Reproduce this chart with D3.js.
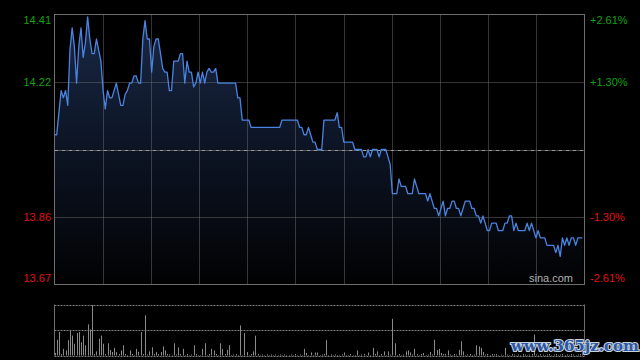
<!DOCTYPE html>
<html><head><meta charset="utf-8">
<script src="https://cdn.jsdelivr.net/npm/d3@7"></script>
<style>html,body{margin:0;padding:0;background:#000;}svg{display:block;}</style>
</head><body>
<svg id="c" width="640" height="360"></svg>
<script>
const prevClose = 14.04;
const pctRange = 2.61;
const totalMinutes = 240;
const priceTickLabels = ["14.41", "14.22", "13.86", "13.67"];
const pctTickLabels = ["+2.61%", "+1.30%", "-1.30%", "-2.61%"];
const tickPcts = [2.61, 1.305, -1.305, -2.61];
const prices = [
14.08,14.08,14.14,14.20,14.18,14.20,14.16,14.31,14.37,14.32,
14.22,14.32,14.37,14.29,14.33,14.40,14.34,14.30,14.30,14.34,
14.31,14.28,14.20,14.15,14.20,14.18,14.18,14.20,14.22,14.19,
14.16,14.16,14.19,14.20,14.22,14.22,14.24,14.24,14.22,14.22,
14.34,14.39,14.34,14.34,14.25,14.32,14.34,14.34,14.30,14.26,
14.25,14.25,14.20,14.20,14.28,14.28,14.28,14.30,14.30,14.22,
14.28,14.25,14.25,14.21,14.22,14.25,14.22,14.25,14.22,14.25,
14.26,14.25,14.25,14.26,14.22,14.22,14.22,14.22,14.22,14.22,
14.22,14.22,14.22,14.18,14.18,14.12,14.12,14.12,14.12,14.10,
14.10,14.10,14.10,14.10,14.10,14.10,14.10,14.10,14.10,14.10,
14.10,14.10,14.10,14.12,14.12,14.12,14.12,14.12,14.12,14.12,
14.12,14.10,14.10,14.08,14.08,14.10,14.08,14.06,14.06,14.04,
14.04,14.04,14.12,14.12,14.12,14.12,14.12,14.12,14.14,14.10,
14.10,14.06,14.06,14.06,14.06,14.06,14.04,14.04,14.04,14.04,
14.02,14.02,14.04,14.02,14.04,14.04,14.04,14.02,14.04,14.04,
14.04,14.02,14.00,13.92,13.92,13.92,13.96,13.94,13.94,13.94,
13.92,13.92,13.92,13.96,13.94,13.92,13.92,13.92,13.92,13.90,
13.92,13.90,13.88,13.88,13.86,13.88,13.90,13.86,13.88,13.88,
13.90,13.90,13.88,13.88,13.86,13.88,13.90,13.90,13.90,13.88,
13.88,13.86,13.86,13.84,13.86,13.84,13.82,13.82,13.84,13.84,
13.84,13.82,13.82,13.82,13.84,13.84,13.86,13.86,13.82,13.84,
13.82,13.82,13.82,13.82,13.84,13.82,13.84,13.82,13.80,13.82,
13.80,13.80,13.80,13.78,13.78,13.78,13.78,13.76,13.78,13.75,
13.80,13.78,13.80,13.78,13.80,13.80,13.78,13.80,13.80,13.80
];
const volumes = [
5,31,46,3,13,10,30,48,39,23,
44,46,26,39,20,61,51,99,3,8,
33,39,23,3,24,11,7,15,7,3,
10,20,3,1,10,3,1,13,7,46,
3,79,2,8,16,3,7,3,7,18,
10,3,2,1,24,2,16,3,13,1,
3,1,2,20,3,1,1,13,24,1,
3,13,10,3,1,24,13,3,11,20,
1,2,3,1,59,1,44,7,1,3,
8,39,3,1,2,1,2,1,2,1,
2,1,2,1,2,1,1,2,1,3,
1,2,1,13,5,1,6,1,6,6,
1,2,3,30,1,2,1,2,1,1,
2,6,1,1,3,1,1,10,1,2,
3,1,6,1,15,3,8,1,3,8,
1,8,2,72,24,1,3,1,2,8,
10,6,2,13,3,1,3,5,1,2,
7,2,31,11,13,5,3,3,10,2,
1,3,2,11,28,8,1,2,3,1,
2,20,18,15,7,2,3,1,3,2,
3,1,2,1,15,2,1,3,2,1,
2,1,3,2,1,2,3,41,2,1,
3,2,1,2,3,1,2,3,1,2,
3,1,2,1,3,2,1,2,3,2
];
const volumeMax = 100;
const vGridCount = 11;

const svg = d3.select("#c");
const L = 54.5, R = 584.5, T = 14.5, B = 284.5;
const VT = 304.5, VB = 355.5;
const green = "#14a014", red = "#e01010";

svg.append("rect").attr("width", 640).attr("height", 360).attr("fill", "#000");

const x = d3.scaleLinear().domain([0, totalMinutes]).range([L, R]);
const y = d3.scaleLinear()
  .domain([prevClose * (1 - pctRange / 100), prevClose * (1 + pctRange / 100)])
  .range([B, T]);
const yv = d3.scaleLinear().domain([0, volumeMax]).range([VB, VT]);

const defs = svg.append("defs");
const grad = defs.append("linearGradient").attr("id", "g")
  .attr("gradientUnits", "userSpaceOnUse").attr("x1", 0).attr("x2", 0).attr("y1", T).attr("y2", B);
grad.append("stop").attr("offset", 0).attr("stop-color", "#1a2946");
grad.append("stop").attr("offset", 0.5).attr("stop-color", "#0c1424");
grad.append("stop").attr("offset", 1).attr("stop-color", "#020203");

// area
const area = d3.area().x((d, i) => x(i)).y0(B).y1(d => y(d));
svg.append("path").datum(prices).attr("d", area).attr("fill", "url(#g)");

// grid
const gridColor = "#6a6a6a";
const vx = d3.range(1, vGridCount).map(k => L + (R - L) * k / vGridCount);
svg.selectAll(".vg").data(vx).enter().append("line")
  .attr("x1", d => Math.round(d) + 0.5).attr("x2", d => Math.round(d) + 0.5)
  .attr("y1", T).attr("y2", B)
  .attr("stroke", gridColor).attr("stroke-dasharray", "1,1");
[1.305, -1.305].forEach(p => {
  const yy = Math.round(y(prevClose * (1 + p / 100))) + 0.5;
  svg.append("line").attr("x1", L).attr("x2", R).attr("y1", yy).attr("y2", yy)
    .attr("stroke", gridColor).attr("stroke-dasharray", "1,1");
});
const ym = Math.round(y(prevClose)) + 0.5;
svg.append("line").attr("x1", L).attr("x2", R).attr("y1", ym).attr("y2", ym)
  .attr("stroke", "#9a9a9a").attr("stroke-dasharray", "4,1,1,1");

// line
const line = d3.line().x((d, i) => x(i)).y(d => y(d));
svg.append("path").datum(prices).attr("d", line).attr("fill", "none")
  .attr("stroke", "#4a84e0").attr("stroke-width", 1.3).attr("stroke-linejoin", "round");

// frame
svg.append("rect").attr("x", L).attr("y", T).attr("width", R - L).attr("height", B - T)
  .attr("fill", "none").attr("stroke", "#6e6e6e");

// labels
tickPcts.forEach((p, i) => {
  let yy = y(prevClose * (1 + p / 100));
  if (i === 0) yy += 6;
  if (i === tickPcts.length - 1) yy -= 6;
  const col = p > 0 ? green : red;
  svg.append("text").attr("x", 51).attr("y", yy).attr("dy", "0.35em")
    .attr("text-anchor", "end").attr("fill", col)
    .attr("font-family", "'Liberation Sans', Arial, sans-serif").attr("font-size", 11)
    .text(priceTickLabels[i]);
  svg.append("text").attr("x", 590).attr("y", yy).attr("dy", "0.35em")
    .attr("text-anchor", "start").attr("fill", col)
    .attr("font-family", "'Liberation Sans', Arial, sans-serif").attr("font-size", 11)
    .text(pctTickLabels[i]);
});

svg.append("text").attr("x", 573).attr("y", 278).attr("dy", "0.35em")
  .attr("text-anchor", "end").attr("fill", "#b0b0b0")
  .attr("font-family", "'Liberation Sans', Arial, sans-serif").attr("font-size", 11)
  .text("sina.com");

// volume panel
[VT, (VT + VB) / 2, VB].forEach(v => {
  const yy = Math.round(v) + 0.5;
  svg.append("line").attr("x1", L).attr("x2", R).attr("y1", yy).attr("y2", yy)
    .attr("stroke", "#808080").attr("stroke-dasharray", "2,1");
});
svg.selectAll(".vb").data(volumes).enter().append("line")
  .attr("x1", (d, i) => Math.round(x(i)) + 0.5).attr("x2", (d, i) => Math.round(x(i)) + 0.5)
  .attr("y1", VB).attr("y2", d => yv(d))
  .attr("stroke", "#8a8a8a").attr("stroke-width", 1);
[L, R].forEach(xx => {
  svg.append("line").attr("x1", xx).attr("x2", xx).attr("y1", VT).attr("y2", VB)
    .attr("stroke", "#6e6e6e");
});

// watermark
svg.append("text").attr("x", 575).attr("y", 351)
  .attr("text-anchor", "middle").attr("fill", "#2a58a6")
  .attr("stroke", "#c8d0dc").attr("stroke-width", 2.2).attr("paint-order", "stroke")
  .attr("font-family", "'DejaVu Serif', serif").attr("font-weight", "bold").attr("font-size", 15)
  .text("www.365jz.com");
</script>
</body></html>
